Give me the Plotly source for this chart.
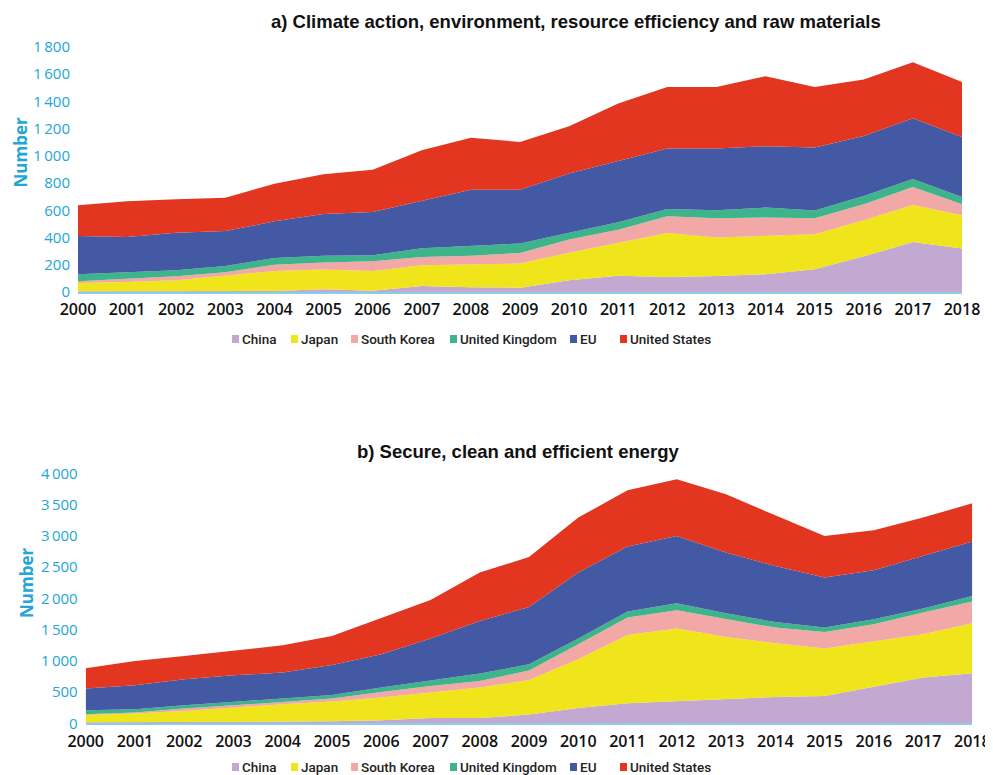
import plotly.graph_objects as go

years = list(range(2000, 2019))
series_names = ["China", "Japan", "South Korea", "United Kingdom", "EU", "United States"]
colors = ["#c3a9d1", "#f0e51a", "#f2a8a6", "#3db489", "#4359a4", "#e23621"]

# a) Climate action, environment, resource efficiency and raw materials
a_china = [5, 5, 5, 5, 7, 20, 10, 44, 35, 32, 86, 120, 110, 118, 130, 167, 262, 367, 319]
a_japan = [61, 68, 81, 115, 147, 145, 144, 152, 168, 177, 203, 240, 324, 282, 284, 257, 265, 272, 245]
a_korea = [13, 22, 29, 25, 47, 51, 72, 61, 64, 78, 96, 98, 122, 141, 133, 117, 117, 133, 80]
a_uk = [51, 47, 44, 46, 49, 51, 44, 64, 71, 69, 51, 54, 54, 59, 73, 57, 61, 58, 54]
a_eu = [281, 262, 277, 257, 269, 306, 318, 350, 414, 396, 434, 451, 444, 454, 451, 463, 441, 446, 441]
a_us = [226, 262, 245, 245, 277, 292, 311, 370, 382, 350, 347, 421, 452, 452, 514, 445, 415, 412, 404]

# b) Secure, clean and efficient energy
b_china = [16, 16, 16, 16, 27, 32, 48, 85, 85, 139, 245, 320, 357, 395, 421, 437, 587, 731, 800]
b_japan = [117, 139, 181, 235, 277, 315, 363, 406, 486, 554, 779, 1093, 1158, 986, 859, 758, 725, 693, 800]
b_korea = [11, 16, 38, 37, 37, 48, 90, 106, 106, 150, 240, 278, 293, 294, 251, 266, 272, 347, 347]
b_uk = [64, 53, 53, 53, 59, 58, 70, 91, 118, 101, 91, 96, 112, 85, 90, 70, 80, 64, 90]
b_eu = [347, 384, 416, 427, 411, 480, 533, 667, 842, 917, 1056, 1040, 1077, 971, 896, 800, 784, 842, 870]
b_us = [325, 389, 373, 400, 437, 464, 587, 618, 774, 800, 880, 901, 907, 933, 811, 666, 640, 614, 613]

title_a = "a) Climate action, environment, resource efficiency and raw materials"
title_b = "b) Secure, clean and efficient energy"
y_title = "Number"

# The page body has an 8px margin, so the figure is drawn 8px smaller
# and all page-pixel positions are shifted by that offset.
OFF = 8
W, H = 993 - OFF, 775 - OFF
fig = go.Figure()

series_a = [a_china, a_japan, a_korea, a_uk, a_eu, a_us]
series_b = [b_china, b_japan, b_korea, b_uk, b_eu, b_us]

for name, vals, col in zip(series_names, series_a, colors):
    fig.add_trace(go.Scatter(x=years, y=vals, name=name, mode="lines",
                             stackgroup="a", line=dict(width=0, color=col),
                             fillcolor=col, xaxis="x", yaxis="y", showlegend=False))
for name, vals, col in zip(series_names, series_b, colors):
    fig.add_trace(go.Scatter(x=years, y=vals, name=name, mode="lines",
                             stackgroup="b", line=dict(width=0, color=col),
                             fillcolor=col, xaxis="x2", yaxis="y2", showlegend=False))

def px_x(p):
    return (p - OFF) / W

def px_y(p):
    return (H - (p - OFF)) / H

tick_blue = "#22a6d6"
xfont = dict(family="Open Sans", size=16, color="#111111", weight=600)
yfont = dict(family="Open Sans", size=15, color=tick_blue)
axis_line = "#8ccbea"

common_x = dict(range=[2000, 2018], tickmode="array", tickvals=years, ticks="",
                showgrid=False, zeroline=False, showline=True, linecolor=axis_line,
                linewidth=2, tickfont=xfont, fixedrange=True, automargin=False,
                ticklabelstandoff=2)
common_y = dict(ticks="", tickformat=",d", tickmode="linear", tick0=0,
                showgrid=False, zeroline=False, showline=False, tickfont=yfont,
                ticklabelstandoff=7, automargin=False, fixedrange=True)
fig.update_layout(
    xaxis=dict(domain=[px_x(78), px_x(962)], anchor="y", **common_x),
    yaxis=dict(domain=[px_y(292), px_y(47)], anchor="x", range=[0, 1800], dtick=200, **common_y),
    xaxis2=dict(domain=[px_x(85.7), px_x(972.3)], anchor="y2", **common_x),
    yaxis2=dict(domain=[px_y(723.3), px_y(473.3)], anchor="x2", range=[0, 4000], dtick=500, **common_y),
)

annotations = []
title_font = dict(family="Liberation Sans", size=18.5, color="#111111", weight="bold")
annotations.append(dict(text=title_a, x=px_x(576), y=px_y(8.5), xref="paper", yref="paper",
                        showarrow=False, font=title_font, xanchor="center", yanchor="top"))
annotations.append(dict(text=title_b, x=px_x(519), y=px_y(451), xref="paper", yref="paper",
                        showarrow=False, font=title_font, xanchor="center", yanchor="middle"))
num_font = dict(family="Open Sans", size=17, color=tick_blue, weight="bold")
annotations.append(dict(text=y_title, x=px_x(19.5), y=px_y(153), xref="paper", yref="paper",
                        showarrow=False, font=num_font, textangle=-90,
                        xanchor="center", yanchor="middle"))
annotations.append(dict(text=y_title, x=px_x(26), y=px_y(583), xref="paper", yref="paper",
                        showarrow=False, font=num_font, textangle=-90,
                        xanchor="center", yanchor="middle"))

# Legends (drawn as swatches + text under each chart)
swatch_x = [232, 291, 351, 450, 570, 620]
legend_font = dict(family="Roboto", size=13.5, color="#222222", weight=500)
shapes = []
for ly in (339, 767):
    for name, col, sx in zip(series_names, colors, swatch_x):
        shapes.append(dict(type="rect", xref="paper", yref="paper",
                           x0=px_x(sx), x1=px_x(sx + 7), y0=px_y(ly + 4), y1=px_y(ly - 4),
                           fillcolor=col, line=dict(width=0)))
        annotations.append(dict(text=name, x=px_x(sx + 8), y=px_y(ly), xref="paper", yref="paper",
                                showarrow=False, font=legend_font, xanchor="left",
                                yanchor="middle"))

fig.update_layout(
    width=W, height=H, autosize=False,
    margin=dict(l=0, r=0, t=0, b=0),
    paper_bgcolor="white", plot_bgcolor="white",
    separators=".\u2009",
    showlegend=False,
    annotations=annotations, shapes=shapes,
)

fig.write_html("out.html")
